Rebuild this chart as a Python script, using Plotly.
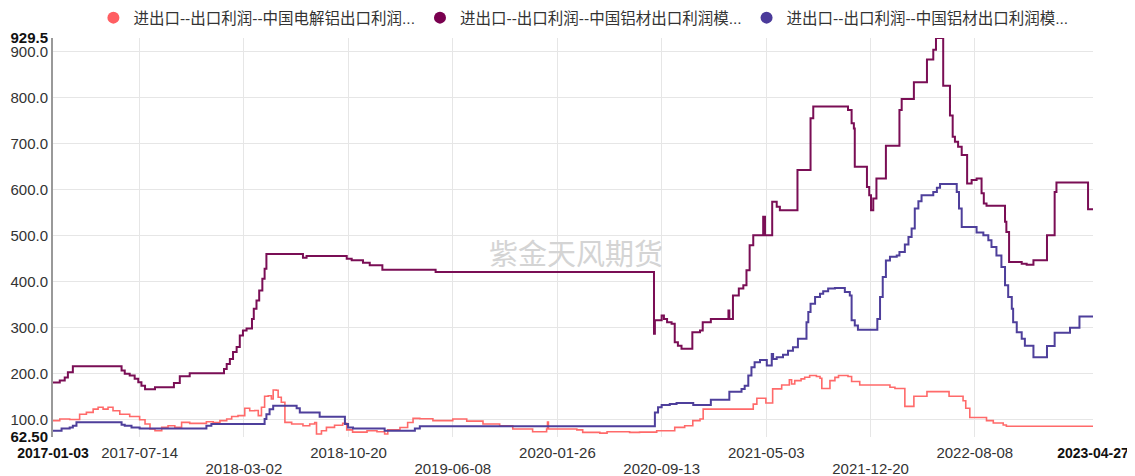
import plotly.graph_objects as go

# ---------------- data ----------------
series_names = [
    "进出口--出口利润--中国电解铝出口利润...",
    "进出口--出口利润--中国铝材出口利润模...",
    "进出口--出口利润--中国铝材出口利润模...",
]

red_dates = [
    "2017-01-03", "2017-01-18", "2017-02-09", "2017-03-03", "2017-03-18", "2017-04-02", "2017-04-13",
    "2017-04-24", "2017-05-05", "2017-05-16", "2017-05-31", "2017-06-22", "2017-07-14", "2017-07-26",
    "2017-08-06", "2017-08-17", "2017-09-01", "2017-09-15", "2017-09-30", "2017-10-15", "2017-11-02",
    "2017-11-17", "2017-12-09", "2017-12-24", "2018-01-08", "2018-01-23", "2018-02-03", "2018-02-17",
    "2018-03-04", "2018-03-15", "2018-03-26", "2018-04-03", "2018-04-10", "2018-04-17", "2018-04-25",
    "2018-05-02", "2018-05-06", "2018-05-13", "2018-05-17", "2018-05-24", "2018-06-01", "2018-06-16",
    "2018-07-11", "2018-07-26", "2018-08-06", "2018-08-10", "2018-08-21", "2018-09-01", "2018-09-19",
    "2018-10-07", "2018-10-16", "2018-10-29", "2018-11-30", "2018-12-22", "2019-01-08", "2019-01-15",
    "2019-02-11", "2019-02-28", "2019-03-12", "2019-03-27", "2019-04-25", "2019-06-08", "2019-07-09",
    "2019-08-14", "2019-09-20", "2019-10-19", "2019-12-02", "2020-01-02", "2020-01-04", "2020-01-06",
    "2020-02-15", "2020-03-09", "2020-03-22", "2020-04-29", "2020-05-15", "2020-06-19", "2020-07-04",
    "2020-07-26", "2020-09-02", "2020-10-12", "2020-11-03", "2020-11-21", "2020-12-07", "2020-12-14",
    "2021-04-04", "2021-04-12", "2021-05-02", "2021-05-17", "2021-06-06", "2021-06-23", "2021-06-28",
    "2021-07-05", "2021-07-19", "2021-07-27", "2021-08-07", "2021-08-22", "2021-08-30", "2021-09-03",
    "2021-09-21", "2021-10-02", "2021-10-10", "2021-10-31", "2021-11-08", "2021-11-26", "2022-02-01",
    "2022-02-12", "2022-03-06", "2022-03-26", "2022-04-24", "2022-06-12", "2022-07-13", "2022-07-19",
    "2022-07-28", "2022-09-03", "2022-09-18", "2022-10-10", "2022-10-17", "2023-04-27",
]
red_values = [
    98, 101.5, 100.5, 112, 116, 123, 127,
    123, 127, 119.6, 112, 107, 100, 90.6,
    80, 76, 83.4, 87, 83.4, 94.3, 92,
    92, 95.6, 94, 98, 101.5, 107, 109,
    125, 119.6, 120, 109, 127, 151, 152,
    145, 164.7, 164, 149, 138, 94.3, 90.6,
    87, 90.6, 94, 69, 76, 83.4, 88,
    92, 78, 73, 76, 74, 69, 78,
    83, 94, 103, 102, 98, 101.5, 97,
    90.6, 87, 80, 74, 80, 95, 80,
    80, 78, 72.5, 71, 74, 74, 72.5,
    73, 76, 83.4, 87, 98, 101.5, 123,
    134, 146.6, 136.4, 167, 175.6, 187, 177.8,
    185, 188.7, 192.4, 196, 194, 190, 168,
    185, 192, 196, 194, 183, 175.6, 170.5,
    168, 129, 151, 161, 151, 141.4, 125,
    105, 98, 93, 88.5, 86, 86,
]

purple_dates = [
    "2017-01-03", "2017-01-18", "2017-01-29", "2017-02-05", "2017-02-16", "2017-06-04", "2017-06-11",
    "2017-06-22", "2017-07-03", "2017-07-11", "2017-07-18", "2017-07-26", "2017-08-17", "2017-09-28",
    "2017-10-11", "2017-11-02", "2018-01-17", "2018-01-23", "2018-01-30", "2018-02-06", "2018-02-14",
    "2018-02-21", "2018-02-28", "2018-03-08", "2018-03-20", "2018-03-24", "2018-03-30", "2018-04-05",
    "2018-04-12", "2018-04-17", "2018-04-21", "2018-04-26", "2018-07-11", "2018-07-19", "2018-08-16",
    "2018-10-16", "2018-10-27", "2018-11-21", "2018-12-06", "2019-01-03", "2019-05-01", "2020-08-27",
    "2020-08-29", "2020-09-13", "2020-09-18", "2020-09-25", "2020-10-05", "2020-10-12", "2020-10-19",
    "2020-10-27", "2020-11-20", "2020-12-07", "2020-12-13", "2020-12-31", "2021-02-08", "2021-02-10",
    "2021-02-18", "2021-03-03", "2021-03-13", "2021-03-20", "2021-03-27", "2021-04-04", "2021-04-26",
    "2021-04-30", "2021-05-16", "2021-05-26", "2021-06-02", "2021-07-11", "2021-08-09", "2021-08-15",
    "2021-10-31", "2021-11-08", "2021-11-13", "2021-11-15", "2021-12-12", "2021-12-17", "2021-12-21",
    "2021-12-26", "2022-01-02", "2022-01-23", "2022-02-22", "2022-02-27", "2022-03-26", "2022-04-24",
    "2022-05-08", "2022-05-14", "2022-05-30", "2022-06-14", "2022-06-20", "2022-06-25", "2022-07-02",
    "2022-07-10", "2022-07-22", "2022-08-01", "2022-08-12", "2022-08-23", "2022-08-28", "2022-09-03",
    "2022-10-14", "2022-10-17", "2022-10-23", "2022-11-20", "2022-12-01", "2022-12-16", "2023-01-15",
    "2023-02-01", "2023-02-05", "2023-04-16", "2023-04-27",
]
purple_values = [
    181, 185, 192, 203, 216, 207, 200,
    196, 189, 181.5, 174, 166, 170.5, 180,
    194.5, 201, 210.5, 221, 232, 247, 258,
    283, 294, 298, 319, 341, 359, 381,
    406.5, 428, 460, 460, 452, 456, 456,
    450, 446.5, 441, 435.5, 426, 421, 287,
    316, 326.6, 319, 312, 308.5, 268.6, 261,
    254, 290, 294, 312, 319, 337.5, 319,
    370, 385, 392, 424.6, 479, 501, 541,
    501, 573.6, 562.7, 555, 642.5, 755, 780.6,
    773, 744, 733, 650, 606, 588, 555,
    581, 624, 695.6, 773, 797, 833.5, 883,
    904, 929.5, 826, 761, 715, 704, 693,
    675, 613.5, 620.7, 624, 592, 570, 565,
    530, 508, 443, 439, 437, 446.5, 501,
    595, 615.7, 557.5, 557.5,
]

blue_dates = [
    "2017-01-03", "2017-01-22", "2017-02-09", "2017-02-16", "2017-02-24", "2017-06-04", "2017-06-11",
    "2017-06-26", "2017-07-14", "2017-12-09", "2017-12-20", "2018-04-17", "2018-04-21", "2018-04-28",
    "2018-05-06", "2018-06-27", "2018-07-04", "2018-08-17", "2018-10-12", "2018-10-19", "2018-10-30",
    "2019-01-08", "2019-03-16", "2019-03-27", "2020-08-29", "2020-09-05", "2020-09-13", "2020-10-01",
    "2020-10-16", "2020-11-22", "2020-12-31", "2021-02-10", "2021-03-09", "2021-03-16", "2021-03-24",
    "2021-03-31", "2021-04-07", "2021-04-19", "2021-05-04", "2021-05-15", "2021-05-18", "2021-05-26",
    "2021-06-09", "2021-06-20", "2021-07-01", "2021-07-12", "2021-07-31", "2021-08-04", "2021-08-09",
    "2021-08-19", "2021-08-30", "2021-09-06", "2021-09-17", "2021-10-02", "2021-10-24", "2021-11-04",
    "2021-11-08", "2021-11-15", "2021-11-22", "2022-01-04", "2022-01-10", "2022-01-16", "2022-01-23",
    "2022-02-01", "2022-02-16", "2022-02-22", "2022-03-06", "2022-03-14", "2022-03-21", "2022-03-28",
    "2022-04-05", "2022-04-12", "2022-05-08", "2022-05-16", "2022-05-23", "2022-06-29", "2022-07-04",
    "2022-07-10", "2022-08-12", "2022-08-27", "2022-09-07", "2022-09-14", "2022-09-25", "2022-10-06",
    "2022-10-14", "2022-10-21", "2022-10-29", "2022-11-01", "2022-11-09", "2022-11-20", "2022-11-27",
    "2022-12-16", "2023-01-15", "2023-02-01", "2023-03-07", "2023-03-28", "2023-04-27",
]
blue_values = [
    76, 81, 83.4, 87, 94.3, 89, 87,
    83.4, 81, 87, 90.6, 101.5, 112, 123,
    130.5, 125, 116, 106.5, 90.6, 83.4, 81,
    76, 81, 86, 116, 127, 132, 134,
    136.4, 132, 143.6, 161, 167, 174, 196,
    214, 225, 230, 217.6, 243, 232, 236,
    241, 250, 257.7, 276, 312, 334, 352,
    366.7, 374, 379, 385, 386.3, 377.5, 370,
    316, 305, 295.4, 319, 366.7, 410, 446,
    454, 457, 464.7, 480.6, 497, 515.5, 559,
    575, 588, 595, 604, 612, 595, 559,
    519, 506.7, 501, 490, 475.6, 457, 432,
    392, 366.7, 341, 312, 290, 276, 261,
    236, 260, 289, 300, 324.4, 324.4,
]

x_tick_dates = ["2017-01-03", "2017-07-14", "2018-03-02", "2018-10-20", "2019-06-08",
                "2020-01-26", "2020-09-13", "2021-05-03", "2021-12-20", "2022-08-08", "2023-04-27"]
y_tick_values = [62.5, 100, 200, 300, 400, 500, 600, 700, 800, 900, 929.5]
y_tick_labels = ["62.50", "100.0", "200.0", "300.0", "400.0", "500.0", "600.0",
                 "700.0", "800.0", "900.0", "929.5"]
watermark = "紫金天风期货"

# ---------------- styles ----------------
line_colors = ["#FF6A6A", "#7A0E55", "#4E3F9B"]
marker_colors = ["#FF5E62", "#79004F", "#4B3A9A"]
line_widths = [1.6, 2, 2]
FONT = "Liberation Sans, Arial, Noto Sans CJK SC, sans-serif"

fig = go.Figure()
all_series = [(red_dates, red_values), (purple_dates, purple_values), (blue_dates, blue_values)]
for i, (d, v) in enumerate(all_series):
    fig.add_trace(go.Scatter(
        x=d, y=v, mode="lines", line=dict(color=line_colors[i], width=line_widths[i], shape="hv"),
        showlegend=False, hoverinfo="skip",
    ))
for i, name in enumerate(series_names):
    fig.add_trace(go.Scatter(
        x=[None], y=[None], mode="markers", name=name, xaxis="x2",
        marker=dict(symbol="circle", size=14, color=marker_colors[i]),
        showlegend=True,
    ))

# x tick labels in two staggered rows (two overlaid axes), ends in bold
row1_vals, row1_text, row2_vals, row2_text = [], [], [], []
for k, d in enumerate(x_tick_dates):
    if k == 0 or k == len(x_tick_dates) - 1:
        row1_vals.append(d)
        row1_text.append("<b><span style='font-size:14px;color:#111'>" + d + "</span></b>")
    elif k % 2 == 0:
        row2_vals.append(d)
        row2_text.append(d)
    else:
        row1_vals.append(d)
        row1_text.append(d)
y_text = ["<b><span style='color:#111'>" + t + "</span></b>"
          if (i == 0 or i == len(y_tick_labels) - 1) else t
          for i, t in enumerate(y_tick_labels)]

xcommon = dict(
    type="date", range=[x_tick_dates[0], x_tick_dates[-1]], tickmode="array", tickangle=0,
    showgrid=True, gridcolor="#E6E6E6", gridwidth=1, showline=False, zeroline=False, ticks="",
    tickfont=dict(size=15, color="#333333"), automargin=False,
)

# page body has an 8px margin, so the figure is sized to 1127x468 to fill the window
fig.update_layout(
    width=1127, height=468,
    margin=dict(l=45, r=42, t=30, b=39, autoexpand=False),
    paper_bgcolor="white", plot_bgcolor="white",
    font=dict(family=FONT, size=15, color="#333333"),
    legend=dict(orientation="h", x=0.51, xanchor="center", y=1.05, yanchor="middle",
                font=dict(size=15.5, color="#333333"), itemsizing="constant",
                bgcolor="rgba(0,0,0,0)"),
    xaxis=dict(xcommon, tickvals=row1_vals, ticktext=row1_text, ticklabelstandoff=5),
    xaxis2=dict(xcommon, tickvals=row2_vals, ticktext=row2_text, overlaying="x",
                side="bottom", anchor="y", ticklabelstandoff=21),
    yaxis=dict(
        range=[62.5, 929.5], tickmode="array", tickvals=y_tick_values, ticktext=y_text,
        showgrid=True, gridcolor="#E6E6E6", gridwidth=1, automargin=False,
        showline=True, linecolor="#999999", linewidth=2, zeroline=False, ticks="",
        tickfont=dict(size=15, color="#333333"),
    ),
    annotations=[dict(
        text=watermark, xref="paper", yref="paper",
        x=(576 - 53) / 1040, y=(437 - 252) / 399, xanchor="center", yanchor="middle",
        showarrow=False, font=dict(size=29, color="#D4D4D4", family="Noto Sans CJK SC"),
    )],
)

fig.write_html("out.html")
